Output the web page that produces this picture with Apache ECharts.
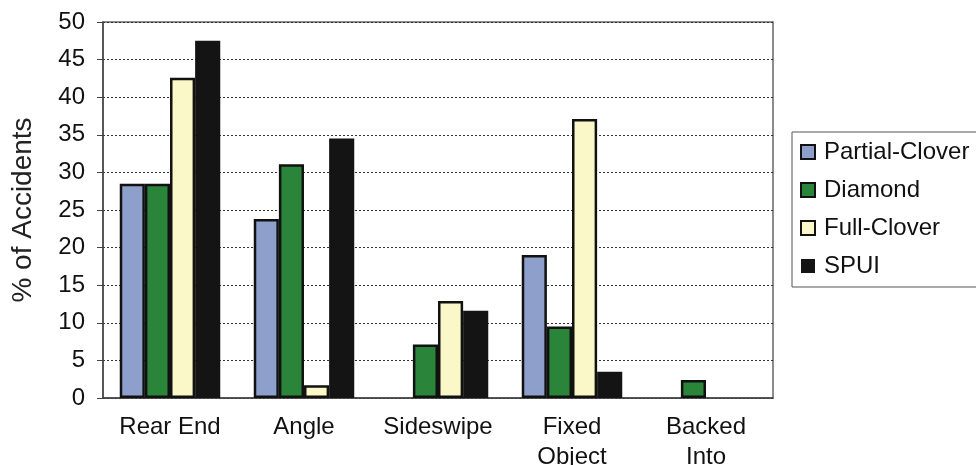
<!DOCTYPE html>
<html>
<head>
<meta charset="utf-8">
<script src="https://cdn.jsdelivr.net/npm/echarts@6/dist/echarts.min.js"></script>
<style>
  html, body { margin: 0; padding: 0; background: #fff; }
  #chart { width: 976px; height: 465px; }
</style>
</head>
<body>
<div id="chart"></div>
<script>
// Accident type shares by interchange type
const categories = ['Rear End', 'Angle', 'Sideswipe', 'Fixed\nObject', 'Backed\nInto'];
const partialClover = [28.5, 23.8, 0, 19.0, 0];
const diamond = [28.5, 31.1, 7.1, 9.5, 2.4];
const fullClover = [42.6, 1.7, 12.9, 37.1, 0];
const spui = [47.5, 34.5, 11.6, 3.5, 0];
const yTicks = { min: 0, max: 50, step: 5 };

const font = '"Liberation Sans", Arial, sans-serif';

// zero shares are left empty so no outline is drawn on the baseline
function barSeries(name, data, color, border) {
  return {
    name: name,
    type: 'bar',
    data: data.map(v => (v === 0 ? null : v)),
    barGap: '0%',
    barCategoryGap: '25%',
    itemStyle: { color: color, borderColor: border, borderWidth: 2.5 }
  };
}

const chart = echarts.init(document.getElementById('chart'), null, { renderer: 'canvas' });
chart.setOption({
  animation: false,
  backgroundColor: '#ffffff',
  textStyle: { fontFamily: font },
  grid: {
    left: 103, top: 22, right: 203, bottom: 67,
    outerBoundsMode: 'none',
    containLabel: false,
    show: true, borderColor: '#666', borderWidth: 1.5, backgroundColor: 'transparent'
  },
  legend: {
    orient: 'vertical',
    left: 792, top: 132,
    padding: [8, 40, 9, 8],
    icon: 'rect',
    itemWidth: 14, itemHeight: 14, itemGap: 14,
    borderColor: '#555', borderWidth: 1,
    textStyle: { fontFamily: font, fontSize: 24, color: '#111', padding: [0, 0, 0, 4] },
    data: [
      { name: 'Partial-Clover', itemStyle: { borderColor: '#111', borderWidth: 2 } },
      { name: 'Diamond', itemStyle: { borderColor: '#111', borderWidth: 2 } },
      { name: 'Full-Clover', itemStyle: { borderColor: '#111', borderWidth: 2 } },
      { name: 'SPUI', itemStyle: { borderColor: '#141414', borderWidth: 0 } }
    ]
  },
  xAxis: {
    type: 'category',
    data: categories,
    axisLine: { lineStyle: { color: '#444', width: 1.5 } },
    axisTick: { inside: true, length: 7, lineStyle: { color: '#444', width: 1 } },
    axisLabel: { fontFamily: font, fontSize: 24, color: '#111', margin: 14, lineHeight: 30, interval: 0 }
  },
  yAxis: {
    type: 'value',
    min: yTicks.min, max: yTicks.max, interval: yTicks.step,
    name: '% of Accidents',
    nameLocation: 'middle',
    nameRotate: 90,
    nameGap: 66,
    nameTextStyle: { fontFamily: font, fontSize: 28, color: '#222' },
    axisLine: { show: true, lineStyle: { color: '#444', width: 1.5 } },
    axisTick: { show: true, length: 6, lineStyle: { color: '#444' } },
    axisLabel: { fontFamily: font, fontSize: 24, color: '#111', margin: 18 },
    splitLine: { show: true, lineStyle: { color: '#333', type: [2, 2], width: 1 } }
  },
  series: [
    barSeries('Partial-Clover', partialClover, '#8f9fcb', '#111'),
    barSeries('Diamond', diamond, '#2a843a', '#111'),
    barSeries('Full-Clover', fullClover, '#faf7c8', '#111'),
    barSeries('SPUI', spui, '#141414', '#141414')
  ]
});
</script>
</body>
</html>
